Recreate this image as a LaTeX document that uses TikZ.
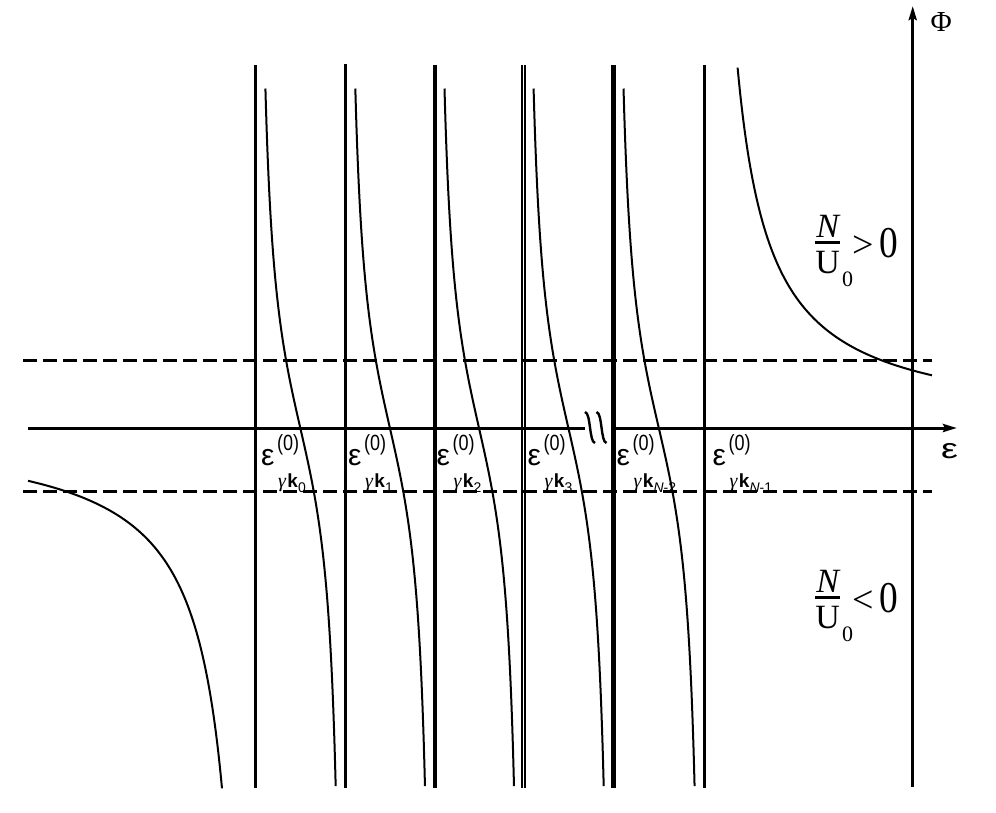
\documentclass[tikz,border=0pt]{standalone}
\usepackage{fontspec}
\usepackage{graphicx}
\setmainfont{Liberation Serif}
\newfontfamily\sansf{Liberation Sans}
\newfontfamily\sansnarrow[FakeStretch=0.82]{Liberation Sans}
\newfontfamily\serifnarrow[FakeStretch=0.85]{Liberation Serif}
\usetikzlibrary{arrows.meta}
\newcommand\fs[1]{\fontsize{#1}{#1}\selectfont}
\newcommand\elab[1]{%
  {\fs{30}\sansf ε}\kern2.5pt
  \rlap{\raisebox{14.5pt}{\fs{22}\sansnarrow (0)}}%
  \raisebox{-22.5pt}{\kern1pt{\fs{20}\rmfamily\itshape γ}\kern1.5pt{\fs{19}\sansf\bfseries k}\raisebox{-5pt}{\fs{14}\sansf #1}}}
\newcommand\ratio[1]{%
  \fs{34}\rmfamily
  \rlap{\raisebox{36pt}{\hbox to 25pt{\hss\itshape N\hss}}}%
  \rlap{\raisebox{29.5pt}{\rule{25pt}{2.4pt}}}%
  \hbox to 25pt{\hss U\hss}%
  \kern2pt\raisebox{-13pt}{\fs{22}0}%
  \raisebox{16pt}{\fs{38}\kern-1pt#1\kern6pt{\fs{44}\serifnarrow 0}}}
\tikzset{
  axis/.style={line width=3pt},
  pole/.style={line width=3pt},
  level/.style={line width=2.8pt, dash pattern=on 14pt off 6pt},
  curve/.style={line width=2pt},
  brk/.style={line width=2.4pt},
  lab/.style={anchor=base west, inner sep=0pt},
  tip/.style={-{Stealth[length=14pt,width=8pt,inset=2pt]}}
}
\begin{document}
\begin{tikzpicture}[x=1pt,y=-1pt]
\useasboundingbox (0,0) rectangle (996,812);
% dashed levels
\draw[level] (23,360.7) -- (932,360.7);
\draw[level] (23,491.7) -- (932,491.7);
% poles
\draw[pole] (255.3,65) -- (255.3,788);
\draw[pole] (345.3,64) -- (345.3,788);
\draw[pole, line width=4pt] (434.5,65) -- (434.5,788);
\draw[pole, line width=2pt] (521.6,65) -- (521.6,788);
\draw[pole, line width=2pt] (525.4,65) -- (525.4,788);
\draw[pole, line width=5pt] (613.3,65) -- (613.3,788);
\draw[pole] (704.3,65) -- (704.3,788);
% axes
\coordinate (xs) at (28,428);
\coordinate (xb1) at (585,428);
\coordinate (xb2) at (611,428);
\coordinate (xe) at (957,428);
\draw[axis] (xs) -- (xb1);
\draw[axis, tip] (xb2) -- (xe);
\coordinate (ys) at (912.7,787);
\coordinate (ye) at (912.7,6);
\draw[axis, tip] (ys) -- (ye);
% break marks
\draw[brk] (585,412) .. controls (591,413) and (589,442) .. (595,443);
\draw[brk] (596.5,412) .. controls (602.5,413) and (600.5,442) .. (606.5,443);
% curves
\draw[curve] plot[domain=28:222, samples=160, variable=\v] (\v, {428+12000/(255.3-\v)});
\foreach \a/\b in {255.3/345.3, 345.3/434.5, 434.5/523.5, 523.5/613.3, 613.3/704.3}
  \draw[curve] plot[domain=0.1123:0.8935, samples=120, variable=\u] ({\a+\u*(\b-\a)}, {428-125*cot(180*\u)});
\draw[curve] plot[domain=737.6:932, samples=160, variable=\v] (\v, {428-12000/(\v-704.3)});
% labels
\node[lab] (e0) at (261,465) {\elab{0}};
\node[lab] (e1) at (348,465) {\elab{1}};
\node[lab] (e2) at (436.5,465) {\elab{2}};
\node[lab] (e3) at (527.5,465) {\elab{3}};
\node[lab] (e4) at (616.5,465) {\elab{{\itshape N}-2}};
\node[lab] (e5) at (712.5,465) {\elab{{\itshape N}-1}};
\node[lab] (eps) at (941,458) {\scalebox{1.35}[1]{\fs{28}\sansf ε}};
\node[lab] (phi) at (930.5,31.7) {\fs{29}\rmfamily Φ};
\node[lab] (pos) at (815,273) {\ratio{>}};
\node[lab] (neg) at (815,628) {\ratio{<}};
\end{tikzpicture}
\end{document}
